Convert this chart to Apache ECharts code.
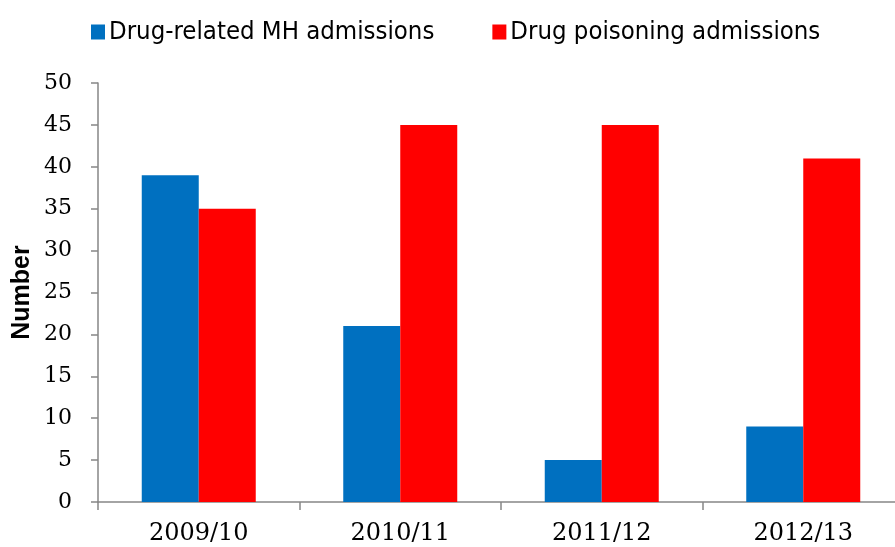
<!DOCTYPE html>
<html>
<head>
<meta charset="utf-8">
<script src="https://cdn.jsdelivr.net/npm/echarts@6/dist/echarts.min.js"></script>
<style>
  html, body { margin: 0; padding: 0; background: #fff; }
  #BarChart { width: 895px; height: 547px; }
</style>
</head>
<body>
<div id="BarChart"></div>
<script>
const categories = ['2009/10', '2010/11', '2011/12', '2012/13']
const mhAdmissions = [39, 21, 5, 9]
const poisoningAdmissions = [35, 45, 45, 41]
const seriesNames = ['Drug-related MH admissions', 'Drug poisoning admissions']

const axisGrey = '#868686'
const myChart = echarts.init(document.getElementById('BarChart'))

const chartOption = {
  backgroundColor: '#fff',
  animation: false,
  legend: {
    top: 14,
    left: 86,
    itemWidth: 14,
    itemHeight: 15,
    itemGap: 58,
    icon: 'rect',
    textStyle: {
      fontFamily: 'DejaVu Sans Condensed',
      fontSize: 25.5,
      color: '#000',
      padding: [0, 0, 0, -1]
    },
    data: seriesNames
  },
  grid: {
    left: 98,
    top: 83,
    width: 806,
    bottom: 45,
    containLabel: false,
    outerBoundsMode: 'none'
  },
  xAxis: {
    type: 'category',
    data: categories,
    axisLine: { lineStyle: { color: axisGrey, width: 1.5 } },
    axisTick: { show: true, length: 8, lineStyle: { color: axisGrey, width: 1.5 } },
    axisLabel: {
      margin: 20,
      fontFamily: 'DejaVu Serif',
      fontSize: 24,
      color: '#000'
    }
  },
  yAxis: {
    type: 'value',
    min: 0,
    max: 50,
    interval: 5,
    name: 'Number',
    nameLocation: 'middle',
    nameGap: 63,
    nameMoveOverlap: false,
    nameTextStyle: {
      fontFamily: 'Liberation Sans',
      fontWeight: 'bold',
      fontSize: 25,
      color: '#000'
    },
    splitLine: { show: false },
    axisLine: { show: true, lineStyle: { color: axisGrey, width: 1.5 } },
    axisTick: { show: true, length: 7, lineStyle: { color: axisGrey, width: 1.5 } },
    axisLabel: {
      margin: 26,
      fontFamily: 'DejaVu Serif',
      fontSize: 22,
      color: '#000'
    }
  },
  series: [
    {
      name: seriesNames[0],
      type: 'bar',
      data: mhAdmissions,
      barWidth: 57,
      barGap: 0,
      itemStyle: { color: '#0070C0' }
    },
    {
      name: seriesNames[1],
      type: 'bar',
      data: poisoningAdmissions,
      barWidth: 57,
      barGap: 0,
      itemStyle: { color: '#FF0000' }
    }
  ]
}

myChart.setOption(chartOption)
</script>
</body>
</html>
